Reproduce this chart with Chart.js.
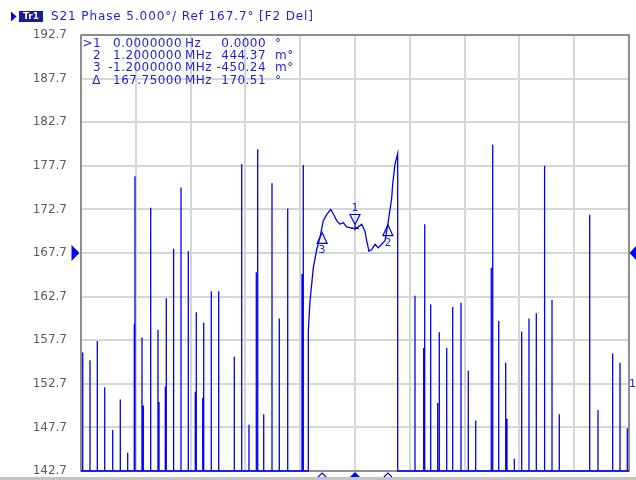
<!DOCTYPE html>
<html>
<head>
<meta charset="utf-8">
<script src="https://cdn.jsdelivr.net/npm/chart.js@4.4.1/dist/chart.umd.min.js"></script>
<style>
  html, body { margin: 0; padding: 0; background: #ffffff; }
  #wrap { width: 636px; height: 480px; }
</style>
</head>
<body>
<div id="wrap"><canvas id="c" width="636" height="480"></canvas></div>
<script>
// ---------- data (frequency offset in MHz, phase in degrees) ----------
const xGridMHz = [-10, -8, -6, -4, -2, 0, 2, 4, 6, 8, 10];
const yTickDeg = [192.7, 187.7, 182.7, 177.7, 172.7, 167.7, 162.7, 157.7, 152.7, 147.7, 142.7];
const floorDeg = 142.7;     // trace clamps to the bottom of the screen
const refLevelDeg = 167.7;

const leftSpikeMHz = [-9.938, -9.672, -9.405, -9.135, -8.843, -8.566, -8.296, -8.055, -8.029, -7.774, -7.726,
  -7.456, -7.190, -7.153, -6.923, -6.887, -6.642, -6.606, -6.350, -6.084, -5.828, -5.792, -5.558, -5.522,
  -5.245, -4.974, -4.405, -4.135, -3.869, -3.602, -3.551, -3.332, -3.029, -2.763, -2.456, -1.934, -1.887];
const leftSpikeDeg = [156.3, 155.4, 157.6, 152.3, 147.4, 150.9, 144.8, 159.6, 176.5, 158.0, 150.2,
  172.9, 158.9, 150.6, 152.4, 162.5, 155.4, 168.2, 175.2, 167.9, 151.8, 160.9, 151.1, 159.7,
  163.3, 163.3, 155.8, 177.9, 148.0, 165.5, 179.6, 149.2, 175.7, 160.2, 172.8, 165.3, 177.8];

const curveMHz = [-1.704, -1.642, -1.522, -1.398, -1.277, -1.157, -1.033, -0.887, -0.792, -0.668, -0.547,
  -0.427, -0.303, -0.182, 0.0, 0.120, 0.245, 0.365, 0.427, 0.511, 0.609, 0.730, 0.850, 0.974, 1.095,
  1.179, 1.252, 1.339, 1.376, 1.460, 1.558];
const curveDeg = [158.8, 162.2, 166.0, 168.1, 169.5, 171.4, 172.1, 172.7, 172.2, 171.4, 171.0,
  171.2, 170.7, 170.6, 170.5, 170.7, 171.0, 170.2, 169.1, 167.9, 168.1, 168.7, 168.3, 168.7, 169.1,
  170.6, 172.1, 174.0, 175.6, 177.9, 179.1];

const rightSpikeMHz = [2.190, 2.507, 2.544, 2.763, 3.018, 3.077, 3.347, 3.566, 3.869, 4.135, 4.405,
  4.974, 5.026, 5.245, 5.500, 5.547, 5.814, 6.084, 6.350, 6.617, 6.898, 6.934, 7.190, 7.456,
  8.566, 8.869, 9.405, 9.672, 9.938];
const rightSpikeDeg = [162.8, 156.8, 171.0, 161.8, 150.5, 158.6, 156.8, 161.5, 162.0, 154.2, 148.5,
  166.0, 180.1, 159.9, 155.1, 148.7, 144.1, 158.7, 160.2, 160.8, 160.1, 177.7, 162.3, 149.2,
  172.1, 149.7, 156.2, 155.1, 147.6];

// markers: 1 (active), 2, 3
const markerNames = ['1', '2', '3'];
const markerMHz = [0, 1.2, -1.2];
const markerDeg = [170.51, 170.95, 170.06];

// marker readout table
const tableLabels = ['>1', '2', '3', '\u0394'];
const tableStim = ['0.0000000', '1.2000000', '-1.2000000', '167.75000'];
const tableStimUnit = ['Hz', 'MHz', 'MHz', 'MHz'];
const tableVal = ['0.0000', '444.37', '-450.24', '170.51'];
const tableValUnit = ['\u00b0', 'm\u00b0', 'm\u00b0', '\u00b0'];

const headerText = 'S21 Phase 5.000\u00b0/ Ref 167.7\u00b0 [F2 Del]';

// ---------- build trace ----------
const trace = [{x: -10, y: floorDeg}];
function addSpikes(fs, ps) {
  for (let i = 0; i < fs.length; i++) {
    trace.push({x: fs[i], y: floorDeg});
    trace.push({x: fs[i], y: ps[i]});
    trace.push({x: fs[i], y: floorDeg});
  }
}
addSpikes(leftSpikeMHz, leftSpikeDeg);
trace.push({x: curveMHz[0], y: floorDeg});
for (let i = 0; i < curveMHz.length; i++) trace.push({x: curveMHz[i], y: curveDeg[i]});
trace.push({x: curveMHz[curveMHz.length - 1], y: floorDeg});
addSpikes(rightSpikeMHz, rightSpikeDeg);
trace.push({x: 10, y: floorDeg});

const BLUE = '#0000ff';
const TXT = '#1c1cf0';

const overlay = {
  id: 'overlay',
  beforeDraw(chart) {
    const ctx = chart.ctx;
    ctx.save();
    ctx.fillStyle = '#ffffff';
    ctx.fillRect(0, 0, chart.width, chart.height);
    ctx.restore();
  },
  beforeDatasetsDraw(chart) {
    const ctx = chart.ctx, a = chart.chartArea;
    ctx.save();
    ctx.strokeStyle = '#777777';
    ctx.lineWidth = 1.5;
    ctx.strokeRect(a.left, a.top, a.right - a.left, a.bottom - a.top);
    ctx.restore();
  },
  afterDatasetsDraw(chart) {
    const ctx = chart.ctx, a = chart.chartArea;
    const xs = chart.scales.x, ys = chart.scales.y;
    ctx.save();

    // bottom gray strip
    ctx.fillStyle = '#c4c4c4';
    ctx.fillRect(0, 477, chart.width, 3);

    // header
    ctx.fillStyle = BLUE;
    ctx.beginPath(); ctx.moveTo(11, 11.5); ctx.lineTo(16.5, 16.5); ctx.lineTo(11, 21.5); ctx.closePath(); ctx.fill();
    ctx.fillStyle = '#1a1a9c';
    ctx.fillRect(19, 11, 24, 11);
    ctx.fillStyle = '#ffffff';
    ctx.font = 'bold 9px "DejaVu Sans"';
    ctx.textAlign = 'center'; ctx.textBaseline = 'middle';
    ctx.fillText('Tr1', 31, 16.8);
    ctx.fillStyle = TXT;
    ctx.font = '12px "DejaVu Sans"';
    ctx.textAlign = 'left';
    ctx.letterSpacing = '0.9px';
    ctx.fillText(headerText, 51, 16.5);

    // marker table
    ctx.letterSpacing = '0.45px';
    ctx.font = '12px "DejaVu Sans"';
    for (let i = 0; i < tableLabels.length; i++) {
      const y = 43.5 + i * 12.3;
      ctx.textAlign = 'right';
      ctx.fillText(tableLabels[i], 101, y);
      ctx.fillText(tableStim[i], 182, y);
      ctx.fillText(tableVal[i], 266, y);
      ctx.textAlign = 'left';
      ctx.fillText(tableStimUnit[i], 185, y);
      ctx.fillText(tableValUnit[i], 275, y);
    }
    ctx.letterSpacing = '0px';

    // markers on trace
    ctx.strokeStyle = BLUE; ctx.fillStyle = TXT; ctx.lineWidth = 1.2;
    ctx.font = '11px "DejaVu Sans"'; ctx.textAlign = 'center';
    for (let i = 0; i < markerNames.length; i++) {
      const px = xs.getPixelForValue(markerMHz[i]);
      const py = ys.getPixelForValue(markerDeg[i]);
      ctx.beginPath();
      if (i === 0) {
        ctx.moveTo(px - 5, py - 14); ctx.lineTo(px + 5, py - 14); ctx.lineTo(px, py - 4); ctx.closePath();
        ctx.moveTo(px, py - 4); ctx.lineTo(px, py + 2);
        ctx.moveTo(px - 4, py); ctx.lineTo(px + 4, py);
        ctx.stroke();
        ctx.fillText(markerNames[i], px, py - 20);
      } else {
        ctx.moveTo(px, py); ctx.lineTo(px + 5, py + 11); ctx.lineTo(px - 5, py + 11); ctx.closePath();
        ctx.stroke();
        ctx.fillText(markerNames[i], px, py + 18);
      }
      // bottom stimulus indicators
      const by = a.bottom + 1;
      ctx.beginPath();
      if (i === 0) {
        ctx.fillStyle = BLUE;
        ctx.moveTo(px - 5, by + 5); ctx.lineTo(px + 5, by + 5); ctx.lineTo(px, by); ctx.closePath(); ctx.fill();
        ctx.fillStyle = TXT;
      } else {
        ctx.moveTo(px - 4, by + 5); ctx.lineTo(px, by + 1); ctx.lineTo(px + 4, by + 5); ctx.stroke();
      }
    }

    // reference level arrows
    const ry = ys.getPixelForValue(refLevelDeg);
    ctx.fillStyle = BLUE;
    ctx.beginPath(); ctx.moveTo(71.5, ry - 8); ctx.lineTo(79.5, ry); ctx.lineTo(71.5, ry + 8); ctx.closePath(); ctx.fill();
    ctx.beginPath(); ctx.moveTo(637, ry - 8); ctx.lineTo(629.5, ry); ctx.lineTo(637, ry + 8); ctx.closePath(); ctx.fill();

    // trace number at the right edge
    ctx.fillStyle = TXT;
    ctx.font = '11px "DejaVu Sans"'; ctx.textAlign = 'left';
    ctx.fillText('1', 629, ys.getPixelForValue(152.7));
    ctx.restore();
  }
};

new Chart(document.getElementById('c'), {
  type: 'line',
  data: {
    datasets: [{
      data: trace,
      borderColor: BLUE,
      borderWidth: 1.3,
      pointRadius: 0,
      tension: 0,
      fill: false,
      clip: 2
    }]
  },
  options: {
    responsive: false,
    animation: false,
    events: [],
    layout: { padding: { top: 35, right: 7, bottom: 9, left: 0 } },
    plugins: { legend: { display: false }, tooltip: { enabled: false } },
    scales: {
      x: {
        type: 'linear', min: -10, max: 10,
        afterBuildTicks: s => { s.ticks = xGridMHz.map(v => ({value: v})); },
        afterFit: s => { s.height = 0; s.paddingLeft = 0; s.paddingRight = 0; },
        ticks: { display: false },
        grid: { color: '#d6d6d6', lineWidth: 2, drawTicks: false },
        border: { display: false }
      },
      y: {
        min: 142.7, max: 192.7,
        afterBuildTicks: s => { s.ticks = yTickDeg.map(v => ({value: v})); },
        afterFit: s => { s.width = 81; s.paddingTop = 0; s.paddingBottom = 0; },
        ticks: {
          padding: 14,
          color: '#5c5c5c',
          font: { family: 'DejaVu Sans', size: 12 },
          callback: v => Number(v).toFixed(1)
        },
        grid: { color: '#d6d6d6', lineWidth: 2, drawTicks: false },
        border: { display: false }
      }
    }
  },
  plugins: [overlay]
});
</script>
</body>
</html>
